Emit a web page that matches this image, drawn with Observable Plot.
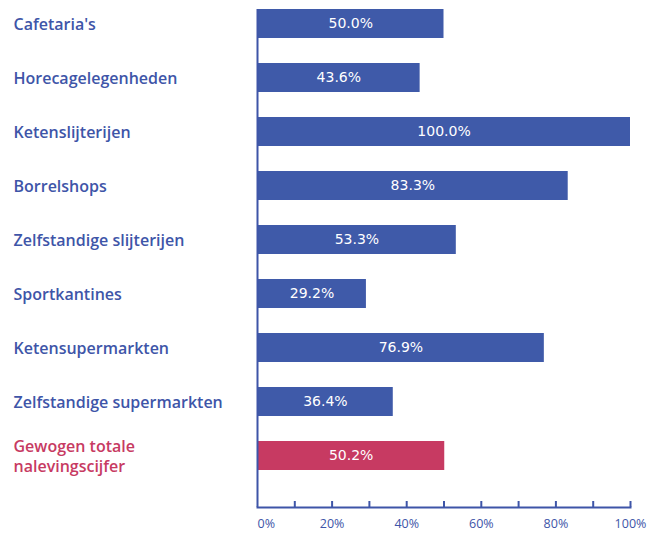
<!DOCTYPE html>
<html><head><meta charset="utf-8">
<script src="https://cdn.jsdelivr.net/npm/d3@7"></script>
<script src="https://cdn.jsdelivr.net/npm/@observablehq/plot@0.6"></script>
<style>body{margin:0;background:#fff;} #c{width:652px;height:536px;}</style>
</head><body><div id="c"></div>
<script>
const categories = ["Cafetaria's","Horecagelegenheden","Ketenslijterijen","Borrelshops","Zelfstandige slijterijen","Sportkantines","Ketensupermarkten","Zelfstandige supermarkten","Gewogen totale\nnalevingscijfer"];
const values = [50.0, 43.6, 100.0, 83.3, 53.3, 29.2, 76.9, 36.4, 50.2];
const highlight = [false,false,false,false,false,false,false,false,true];
const xTickLabels = [20,40,60,80,100];
const xZeroLabel = [0];
const xMinorTicks = [10,20,30,40,50,60,70,80,90,100];

const blue = "#3f5aa9", pink = "#c73a62", labelBlue = "#3e55a8";
const data = categories.map((c,i)=>({category:c, value:values[i], hi:highlight[i]}));
const font = "'Open Sans', sans-serif";

const chart = Plot.plot({
  width: 652, height: 536,
  marginLeft: 257, marginRight: 22, marginTop: 9, marginBottom: 29,
  style: {fontFamily: font, background: "#fff"},
  x: {domain: [0,100], axis: null},
  y: {domain: categories, range: [-17, 495.5], padding: 0.46, axis: null},
  marks: [
    Plot.barX(data, {x: "value", y: "category", fill: d => d.hi ? pink : blue}),
    Plot.text(data, {x: d => d.value/2, y: "category", text: d => d.value.toFixed(1) + "%", fill: "white", fontSize: 14, fontFamily: "'DejaVu Sans', sans-serif", fontWeight: 500}),
    Plot.text(data, {y: "category", frameAnchor: "left", textAnchor: "start", dx: -244, text: "category", lineHeight: 1.25, fill: d => d.hi ? pink : labelBlue, fontSize: 16, fontWeight: 600}),
    Plot.ruleX([0], {stroke: labelBlue, strokeWidth: 2}),
    Plot.frame({anchor: "bottom", stroke: labelBlue, strokeWidth: 2}),
    Plot.ruleX(xMinorTicks, {stroke: labelBlue, strokeWidth: 2, insetTop: 492}),
    Plot.axisX(xTickLabels, {tickSize: 0, tickPadding: 12, label: null, tickFormat: d => d + "%", fill: labelBlue, fontSize: 12.5, fontWeight: 500}),
    Plot.axisX(xZeroLabel, {tickSize: 0, tickPadding: 12, label: null, textAnchor: "start", tickFormat: d => d + "%", fill: labelBlue, fontSize: 12.5, fontWeight: 500})
  ]
});
document.getElementById("c").appendChild(chart);
</script></body></html>
